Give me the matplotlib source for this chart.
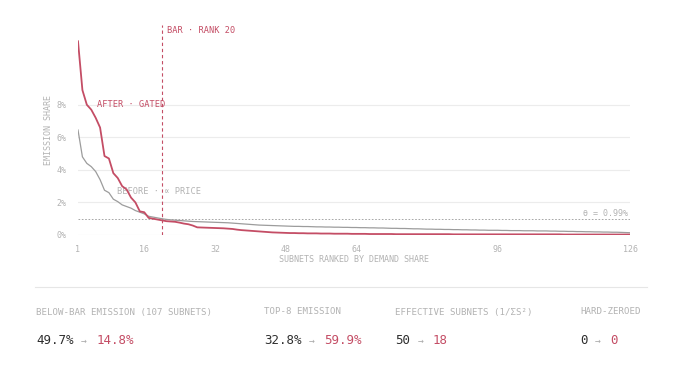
import numpy as np
import matplotlib
matplotlib.use("Agg")
import matplotlib.pyplot as plt
from matplotlib.lines import Line2D

# emission share (%) per subnet, ranked by demand share
before = [6.45, 4.8, 4.4, 4.2, 3.9, 3.4, 2.75, 2.6, 2.2, 2.05,
          1.85, 1.75, 1.65, 1.5, 1.4, 1.3, 1.15, 1.1, 1.05, 1.0,
          0.96, 0.93, 0.91, 0.89, 0.87, 0.85, 0.83, 0.82, 0.81, 0.80,
          0.79, 0.78, 0.77, 0.76, 0.75, 0.73, 0.71, 0.69, 0.67, 0.65,
          0.63, 0.61, 0.60, 0.59, 0.58, 0.57, 0.56, 0.55, 0.54, 0.53,
          0.53, 0.52, 0.52, 0.51, 0.50, 0.50, 0.49, 0.49, 0.48, 0.48,
          0.47, 0.47, 0.46, 0.46, 0.45, 0.45, 0.44, 0.44, 0.43, 0.43,
          0.42, 0.41, 0.41, 0.40, 0.40, 0.39, 0.38, 0.38, 0.37, 0.36,
          0.36, 0.35, 0.35, 0.34, 0.34, 0.33, 0.33, 0.32, 0.32, 0.31,
          0.31, 0.30, 0.30, 0.29, 0.29, 0.29, 0.28, 0.28, 0.27, 0.27,
          0.27, 0.26, 0.26, 0.26, 0.25, 0.25, 0.25, 0.24, 0.24, 0.23,
          0.23, 0.22, 0.22, 0.21, 0.21, 0.20, 0.20, 0.19, 0.19, 0.18,
          0.18, 0.17, 0.17, 0.16, 0.15, 0.14]
after = [11.9, 8.9, 8.0, 7.7, 7.2, 6.6, 4.85, 4.7, 3.8, 3.5,
         3.0, 2.8, 2.3, 2.0, 1.45, 1.4, 1.05, 1.0, 0.95, 0.9,
         0.85, 0.83, 0.81, 0.76, 0.70, 0.66, 0.58, 0.47, 0.46, 0.45,
         0.44, 0.43, 0.42, 0.41, 0.39, 0.37, 0.33, 0.30, 0.28, 0.26,
         0.24, 0.22, 0.20, 0.18, 0.16, 0.15, 0.14, 0.13, 0.12, 0.12,
         0.11, 0.11, 0.10, 0.10, 0.10, 0.09, 0.09, 0.09, 0.08, 0.08,
         0.08, 0.08, 0.07, 0.07, 0.07, 0.07, 0.06, 0.06, 0.06, 0.06,
         0.06, 0.06, 0.05, 0.05, 0.05, 0.05, 0.05, 0.05, 0.05, 0.05,
         0.05, 0.05, 0.05, 0.05, 0.05, 0.04, 0.04, 0.04, 0.04, 0.04,
         0.04, 0.04, 0.04, 0.04, 0.04, 0.04, 0.04, 0.04, 0.04, 0.04,
         0.04, 0.04, 0.04, 0.04, 0.04, 0.04, 0.04, 0.04, 0.04, 0.04,
         0.03, 0.03, 0.03, 0.03, 0.03, 0.03, 0.03, 0.03, 0.03, 0.03,
         0.03, 0.03, 0.03, 0.03, 0.03, 0.03]
rank = np.arange(1, len(before) + 1)
theta = 0.99
bar_rank = 20

xticks = [1, 16, 32, 48, 64, 96, 126]
yticks = [0, 2, 4, 6, 8]

stat_labels = ["BELOW-BAR EMISSION (107 SUBNETS)", "TOP-8 EMISSION",
               "EFFECTIVE SUBNETS (1/ΣS²)", "HARD-ZEROED"]
stat_before = ["49.7%", "32.8%", "50", "0"]
stat_after = ["14.8%", "59.9%", "18", "0"]

RED = "#c44d65"
GREY = "#9c9c9c"
LIGHT = "#b3b3b3"
MONO = "DejaVu Sans Mono"
W, H = 689, 365

fig = plt.figure(figsize=(W / 100, H / 100), dpi=100)
ax = fig.add_axes([78 / W, 1 - 235 / H, (630 - 78) / W, (235 - 25) / H])

ax.plot(rank, before, color=GREY, lw=0.9, zorder=3)
ax.plot(rank, after, color=RED, lw=1.3, zorder=4)
ax.axhline(theta, color="#999999", lw=0.6, ls=(0, (2, 2)), zorder=2)
ax.axvline(bar_rank, color=RED, lw=0.8, ls=(0, (3, 2.5)), zorder=2)

for y in yticks:
    ax.axhline(y, color="#ececec", lw=0.8, zorder=1)

ax.set_xlim(1, 126)
ax.set_ylim(0, 12.9)
ax.set_xticks(xticks)
ax.set_yticks(yticks)
ax.set_yticklabels([f"{y}%" for y in yticks])
ax.tick_params(length=0, labelsize=6, labelcolor=LIGHT, pad=8)
ax.tick_params(axis="x", pad=7)
for lab in ax.get_xticklabels() + ax.get_yticklabels():
    lab.set_family(MONO)
for s in ax.spines.values():
    s.set_visible(False)

ax.set_xlabel("SUBNETS RANKED BY DEMAND SHARE", fontsize=6, color=LIGHT,
              family=MONO, labelpad=1)
ax.set_ylabel("EMISSION SHARE", fontsize=6, color=LIGHT, family=MONO,
              labelpad=3)

ax.text(bar_rank + 1.1, 12.55, "BAR · RANK 20", color=RED, fontsize=6.2,
        family=MONO, va="center")
ax.text(5.4, 8.0, "AFTER · GATED", color=RED, fontsize=6.2, family=MONO,
        va="center")
ax.text(9.9, 2.65, "BEFORE · ∝ PRICE", color=LIGHT, fontsize=6.2,
        family=MONO, va="center")
ax.text(125.5, theta + 0.35, "θ = 0.99%", color=LIGHT, fontsize=6,
        family=MONO, ha="right", va="center")

# divider and stats row
fig.add_artist(Line2D([35 / W, 647 / W], [1 - 287 / H, 1 - 287 / H],
                      color="#e6e6e6", lw=0.8))
xs = [36, 264, 395, 580]
vfs = 9
cw = 0.602 * vfs * 100 / 72
for x, lab, b, a in zip(xs, stat_labels, stat_before, stat_after):
    fig.text(x / W, 1 - 312 / H, lab, fontsize=6.6, color=LIGHT,
             family=MONO, va="center")
    fig.text(x / W, 1 - 341 / H, b, fontsize=vfs, color="#2e2e2e",
             family=MONO, va="center")
    xa = x + (len(b) + 1) * cw
    fig.text(xa / W, 1 - 341 / H, "→", fontsize=7, color="#aaaaaa",
             family=MONO, va="center")
    fig.text((xa + 2 * cw) / W, 1 - 341 / H, a, fontsize=vfs, color=RED,
             family=MONO, va="center")

fig.savefig("out.png", dpi=100)
